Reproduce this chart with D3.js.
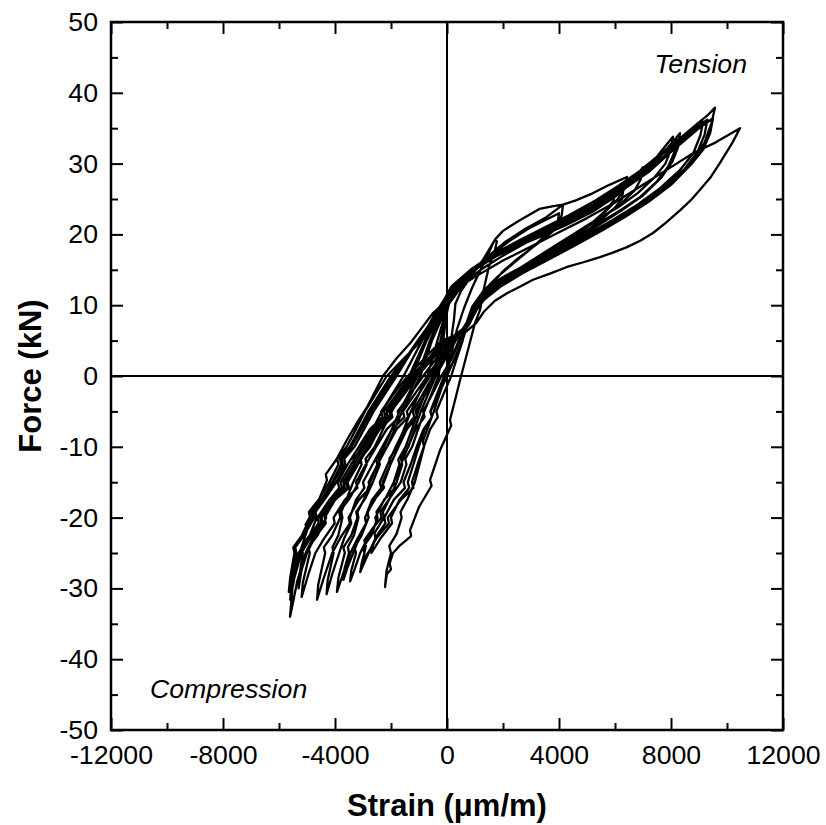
<!DOCTYPE html>
<html>
<head>
<meta charset="utf-8">
<script src="https://cdn.jsdelivr.net/npm/d3@7"></script>
<style>
  body { margin: 0; background: #fff; }
  text { font-family: "Liberation Sans", Arial, sans-serif; fill: #000; }
</style>
</head>
<body>
<svg width="826" height="825"></svg>
<script>
// tick values
var xMajor = [-12000, -8000, -4000, 0, 4000, 8000, 12000]
var xMinor = [-10000, -6000, -2000, 2000, 6000, 10000]
var yMajor = [-50, -40, -30, -20, -10, 0, 10, 20, 30, 40, 50]
var yMinor = [-45, -35, -25, -15, -5, 5, 15, 25, 35, 45]

// hysteresis cycles [strain (um/m), force (kN)]
// each: reload in tension -> peak -> unload -> compression peak -> unload
var cycle1 = [[0,0],[150,3],[350,6.5],[600,9.5],[900,12.5],[1200,15],[1450,17],[1650,18.8],[1720,19.3],
  [1780,19],[1700,17.5],[1500,15.5],[1300,12],[1180,9.3],
  [1000,7.5],[750,3.7],[464,-0.6],[300,-3.2],[107,-6.2],[150,-7],[-250,-10.5],[-607,-14.7],[-550,-15.5],[-1000,-18.5],[-1321,-21.8],[-1280,-22.6],[-1700,-24],[-1929,-25],[-2050,-26.5],[-2000,-27.3],[-2150,-28],[-2214,-29.8],
  [-2160,-27.5],[-2000,-25],[-2060,-24],[-1800,-22.3],[-1620,-20],[-1660,-19.2],[-1400,-17.3],[-1150,-15],[-820,-10],[-860,-9.2],[-470,-5],[-50,0],[142,5],[250,8],[300,10.2]]

var cycle2 = [[500,12],[900,14.3],[1300,16.5],[1720,19.3],[2000,20.5],[2600,22],[3300,23.6],[3800,24],[4143,24.2],
  [4100,22.8],[3950,21],[3500,19.5],[3000,18],[2500,16.5],[2000,14.8],[1500,12.5],[1000,10.2],
  [800,8],[550,5],[250,2.3],[0,0],[-300,-2.6],[-590,-5],[-540,-5.8],[-850,-7.6],[-1085,-10],[-1300,-12.5],[-1550,-15],[-1500,-15.8],[-1900,-17.5],[-2240,-20],[-2200,-20.8],[-2500,-22.5],[-2800,-25],[-2950,-26.3],[-3100,-27.7],
  [-3050,-26.5],[-2950,-25],[-3000,-24.2],[-2700,-22.5],[-2480,-20],[-2520,-19.2],[-2200,-17.3],[-1900,-15],[-1700,-12.5],[-1740,-11.8],[-1480,-10],[-1250,-7.5],[-1030,-5],[-780,-2.5],[-500,0],[-225,5],[-80,8],[0,9.8]]

var cycle3 = [[400,12],[900,14.5],[1500,16.8],[2200,19],[2900,20.8],[3500,22],[4000,23],
  [3950,21.5],[3500,19.8],[3000,18],[2400,16],[1800,14],[1300,12],[900,9.8],
  [700,7.5],[562,5],[350,2.5],[150,0],[-120,-2.5],[-380,-5],[-330,-5.8],[-600,-7.5],[-830,-10],[-1050,-12.5],[-1250,-15],[-1200,-15.8],[-1650,-17.5],[-2115,-20],[-2070,-20.8],[-2500,-22.8],[-2820,-25],[-3000,-26],
  [-2950,-25],[-2900,-24],[-2950,-23.2],[-2650,-21.5],[-2340,-20],[-2380,-19.2],[-2000,-17],[-1650,-15],[-1450,-12.5],[-1490,-11.7],[-1245,-10],[-1030,-7.5],[-810,-5],[-550,-2.5],[-300,0],[-135,5],[-40,8],[0,10.5]]

var cycle4 = [[400,12.5],[900,14.8],[1500,17],[2100,19],[2800,20.8],[3500,22.3],[4143,24.2],[4600,24.8],[5200,25.8],[5800,27],[6429,28.1],
  [6350,26.5],[6100,25],[5600,23],[5000,21],[4300,19],[3500,17],[2700,15],[2000,13.5],[1400,12],[1000,10],
  [750,7.5],[460,5],[150,2.3],[-200,0],[-520,-2.5],[-850,-5],[-800,-5.8],[-1120,-7.5],[-1390,-10],[-1650,-12.5],[-1900,-15],[-1850,-15.8],[-2250,-17.5],[-2560,-20],[-2520,-20.8],[-2850,-23],[-3100,-25],[-3300,-27.3],[-3460,-29],
  [-3420,-27.5],[-3250,-25],[-3300,-24.2],[-3050,-22.5],[-2800,-20],[-2840,-19.2],[-2550,-17.3],[-2250,-15],[-2020,-12.5],[-2060,-11.7],[-1785,-10],[-1540,-7.5],[-1290,-5],[-1000,-2.5],[-700,0],[-342,5],[-120,8],[50,10.6]]

var cycle5 = [[450,12.7],[1000,15],[1650,16.9],[2400,18.6],[3200,20.1],[4000,21.6],[4800,23.1],[5500,24.7],[6000,26.2],
  [5950,24.8],[5700,23.5],[5200,21.7],[4500,19.8],[3700,17.8],[2900,15.9],[2100,14.2],[1500,12.7],[1100,10.8],[850,9],
  [650,7],[422,5],[150,2.5],[-100,0],[-350,-2.5],[-594,-5],[-544,-5.8],[-800,-7.5],[-1010,-10],[-1200,-12.5],[-1400,-15],[-1350,-15.8],[-1700,-17.5],[-2000,-20],[-1960,-20.8],[-2350,-22.8],[-2700,-25],
  [-2650,-24],[-2550,-23],[-2590,-22.2],[-2250,-20],[-2290,-19.2],[-2050,-17.3],[-1800,-15],[-1600,-12.5],[-1640,-11.7],[-1380,-10],[-1160,-7.5],[-932,-5],[-670,-2.5],[-400,0],[-235,5],[-60,8],[100,10.7]]

var cycle6 = [[500,13],[1100,15.3],[1800,17],[2600,18.5],[3400,20],[4200,21.5],[5000,23],[5700,24.8],[6300,26.5],
  [6250,25],[6000,23.8],[5500,22],[4800,20],[4000,18],[3200,16],[2400,14.5],[1700,13],[1200,11],[900,9],
  [650,7],[315,5],[-50,2.5],[-400,0],[-760,-2.5],[-1120,-5],[-1070,-5.8],[-1430,-7.5],[-1730,-10],[-2020,-12.5],[-2300,-15],[-2250,-15.8],[-2600,-17.5],[-2930,-20],[-2890,-20.8],[-3200,-23],[-3450,-25],[-3700,-27.8],[-3930,-30.5],
  [-3880,-28.5],[-3650,-25],[-3700,-24.2],[-3420,-22.5],[-3200,-20],[-3240,-19.2],[-2920,-17.3],[-2650,-15],[-2400,-12.5],[-2440,-11.7],[-2140,-10],[-1870,-7.5],[-1600,-5],[-1270,-2.5],[-950,0],[-537,5],[-200,8],[0,10.5]]

var cycle7 = [[400,12.8],[1000,15],[1700,16.8],[2500,18.3],[3400,19.8],[4300,21.4],[5200,23.2],[6000,25.3],[6600,27.3],[7000,29.5],
  [6920,27.8],[6700,26.2],[6200,24.3],[5500,22.3],[4700,20.3],[3900,18.3],[3100,16.3],[2300,14.5],[1600,12.7],[1150,10.6],[900,8.8],
  [620,7],[270,5],[-100,2.5],[-500,0],[-860,-2.5],[-1222,-5],[-1170,-5.8],[-1520,-7.5],[-1830,-10],[-2120,-12.5],[-2400,-15],[-2350,-15.8],[-2680,-17.5],[-2922,-20],[-2880,-20.8],[-3150,-23],[-3350,-25],[-3550,-27],[-3700,-28.8],
  [-3660,-27.2],[-3500,-25],[-3540,-24.2],[-3320,-22.5],[-3162,-20],[-3200,-19.2],[-2950,-17.3],[-2750,-15],[-2490,-12.5],[-2530,-11.7],[-2240,-10],[-1970,-7.5],[-1696,-5],[-1370,-2.5],[-1050,0],[-610,5],[-270,8],[0,10.6]]

var cycle8 = [[300,12.5],[900,14.8],[1600,16.6],[2400,18.3],[3300,20],[4200,21.8],[5100,23.5],[5900,25.5],[6643,27.7],[7300,30],[7700,32],[8071,33.8],
  [8000,32],[7800,30],[7400,28],[6800,25.8],[6100,23.8],[5300,22],[4500,20],[3700,18],[2900,16],[2100,14],[1500,12],[1100,10],[900,8.5],
  [600,6.8],[225,5],[-200,2.5],[-600,0],[-1000,-2.5],[-1435,-5],[-1385,-5.8],[-1800,-7.5],[-2140,-10],[-2480,-12.5],[-2800,-15],[-2750,-15.8],[-3150,-17.5],[-3515,-20],[-3470,-20.8],[-3800,-22.8],[-4100,-25],[-4400,-28.5],[-4640,-31.6],
  [-4600,-29.5],[-4350,-25],[-4400,-24.2],[-4100,-22.5],[-3810,-20],[-3850,-19.2],[-3480,-17.3],[-3150,-15],[-2870,-12.5],[-2910,-11.7],[-2580,-10],[-2280,-7.5],[-1970,-5],[-1600,-2.5],[-1250,0],[-727,5],[-330,8],[-50,10.5]]

var cycle9 = [[250,12.4],[850,14.6],[1550,16.5],[2350,18.2],[3250,19.9],[4150,21.6],[5050,23.3],[5900,25.4],[6650,27.6],[7300,29.8],[7800,31.8],[8200,33.5],
  [8120,31.6],[7900,29.6],[7500,27.5],[6900,25.3],[6150,23.3],[5350,21.4],[4550,19.5],[3750,17.6],[2950,15.6],[2150,13.8],[1500,11.9],[1100,9.9],[870,8.2],
  [580,6.6],[164,5],[-260,2.5],[-700,0],[-1140,-2.5],[-1574,-5],[-1524,-5.8],[-1960,-7.5],[-2310,-10],[-2660,-12.5],[-3000,-15],[-2950,-15.8],[-3250,-17.5],[-3468,-20],[-3420,-20.8],[-3680,-23],[-3850,-25],[-4100,-28],[-4300,-30.8],
  [-4260,-28.8],[-4050,-25],[-4090,-24.2],[-3880,-22.5],[-3735,-20],[-3775,-19.2],[-3580,-17.3],[-3350,-15],[-3050,-12.5],[-3090,-11.7],[-2750,-10],[-2430,-7.5],[-2110,-5],[-1730,-2.5],[-1350,0],[-784,5],[-390,8],[-50,10.6]]

var cycle10 = [[200,12.3],[800,14.5],[1500,16.5],[2300,18.2],[3200,19.8],[4100,21.5],[5000,23.2],[5900,25.3],[6700,27.5],[7400,30],[7900,32.3],[8321,34.3],
  [8250,32.3],[8050,30.3],[7650,28],[7000,25.5],[6200,23.3],[5400,21.3],[4600,19.3],[3800,17.3],[3000,15.3],[2200,13.5],[1500,11.8],[1100,9.8],[850,8],
  [550,6.5],[85,5],[-380,2.5],[-850,0],[-1300,-2.5],[-1760,-5],[-1710,-5.8],[-2150,-7.5],[-2530,-10],[-2900,-12.5],[-3250,-15],[-3200,-15.8],[-3650,-17.5],[-4050,-20],[-4010,-20.8],[-4400,-23],[-4700,-25],[-4950,-28],[-5190,-31.2],
  [-5150,-29.2],[-4900,-25],[-4950,-24.2],[-4620,-22.5],[-4315,-20],[-4355,-19.2],[-3950,-17.3],[-3600,-15],[-3300,-12.5],[-3340,-11.7],[-2985,-10],[-2650,-7.5],[-2330,-5],[-1940,-2.5],[-1550,0],[-890,5],[-420,8],[-100,10.7]]

var cycle11 = [[200,12.5],[900,14.8],[1700,16.8],[2600,18.6],[3500,20.3],[4400,22],[5300,23.8],[6100,25.8],[6900,28],[7600,30.5],[8200,32.7],[8700,34.3],[9143,35.9],
  [9050,34],[8800,31.5],[8300,29],[7600,26.5],[6800,24.2],[5900,22],[5000,20],[4100,18],[3200,16],[2300,14],[1600,12.2],[1150,10.3],[900,8.5],
  [550,6.5],[22,5],[-500,2.5],[-1050,0],[-1520,-2.5],[-2000,-5],[-1950,-5.8],[-2400,-7.5],[-2800,-10],[-3180,-12.5],[-3550,-15],[-3500,-15.8],[-4000,-17.5],[-4485,-20],[-4440,-20.8],[-4900,-23],[-5250,-25],[-5450,-27.5],[-5536,-29.5],
  [-5500,-27.8],[-5380,-25],[-5420,-24.2],[-5100,-22.5],[-4740,-20],[-4780,-19.2],[-4350,-17.3],[-3950,-15],[-3630,-12.5],[-3670,-11.7],[-3300,-10],[-2960,-7.5],[-2620,-5],[-2210,-2.5],[-1800,0],[-1030,5],[-480,8],[-100,10.8]]

var cycle12 = [[150,12.6],[850,15],[1650,17],[2550,18.9],[3450,20.6],[4350,22.4],[5250,24.3],[6050,26.3],[6850,28.5],[7550,30.9],[8250,33.1],[8850,35],[9300,36.2],
  [9200,34.1],[8950,31.7],[8500,29.3],[7800,26.8],[7000,24.4],[6100,22.2],[5200,20.2],[4300,18.2],[3400,16.2],[2500,14.2],[1750,12.3],[1200,10.3],[900,8.2],
  [520,6.5],[0,5],[-550,2.5],[-1100,0],[-1580,-2.5],[-2050,-5],[-2000,-5.8],[-2450,-7.5],[-2850,-10],[-3230,-12.5],[-3600,-15],[-3550,-15.8],[-4000,-17.5],[-4370,-20],[-4330,-20.8],[-4750,-23],[-5000,-25],[-5200,-27.5],[-5300,-30],
  [-5260,-28],[-5150,-25],[-5190,-24.2],[-4900,-22.5],[-4655,-20],[-4695,-19.2],[-4350,-17.3],[-4050,-15],[-3720,-12.5],[-3760,-11.7],[-3405,-10],[-3060,-7.5],[-2717,-5],[-2310,-2.5],[-1900,0],[-1048,5],[-500,8],[-80,10.8]]

var cycle13 = [[200,12.8],[900,15.2],[1700,17.3],[2600,19.2],[3500,21],[4400,22.8],[5300,24.8],[6100,26.8],[6900,29],[7600,31.3],[8300,33.5],[8900,35.5],[9300,36.8],[9571,37.9],
  [9450,35.8],[9200,33],[8800,30.5],[8200,27.8],[7400,25.3],[6500,22.8],[5600,20.7],[4700,18.7],[3800,16.8],[2900,15],[2000,13],[1400,11.2],[1000,9],[800,7.3],
  [450,6],[-190,5],[-800,2.5],[-1400,0],[-1900,-2.5],[-2350,-5],[-2300,-5.8],[-2750,-7.5],[-3150,-10],[-3550,-12.5],[-3900,-15],[-3850,-15.8],[-4200,-17.5],[-4530,-20],[-4490,-20.8],[-4800,-23],[-5050,-25],[-5350,-29],[-5500,-32],[-5607,-34],
  [-5550,-31.5],[-5500,-28.8],[-5540,-27.8],[-5300,-25.5],[-5000,-21.8],[-5050,-21],[-4650,-18.2],[-4286,-14.7],[-4330,-13.9],[-3950,-11.8],[-3571,-9],[-3200,-6.5],[-2857,-4.4],[-2286,0],[-1800,2.5],[-1300,4.7],[-900,6.8],[-500,8.9],[0,10.7]]

var cycle14 = [[500,12.8],[1200,15],[2000,17],[2900,19],[3800,20.8],[4700,22.6],[5600,24.6],[6400,26.6],[7200,28.8],[7900,31.3],[8500,33.3],[9000,35],[9500,36.4],
  [9400,34.3],[9150,32],[8700,29.8],[8000,27],[7200,24.6],[6300,22.3],[5400,20.3],[4500,18.3],[3600,16.4],[2700,14.5],[1900,12.6],[1300,10.7],[950,8.8],[750,7],
  [400,6],[-127,5],[-650,2.5],[-1200,0],[-1680,-2.5],[-2150,-5],[-2100,-5.8],[-2550,-7.5],[-2950,-10],[-3330,-12.5],[-3700,-15],[-3650,-15.8],[-4100,-17.5],[-4525,-20],[-4480,-20.8],[-4900,-23],[-5200,-25],[-5450,-28.5],[-5600,-31.6],
  [-5560,-29.5],[-5400,-25],[-5440,-24.2],[-5130,-22.5],[-4800,-20],[-4840,-19.2],[-4450,-17.3],[-4100,-15],[-3780,-12.5],[-3820,-11.7],[-3470,-10],[-3130,-7.5],[-2800,-5],[-2400,-2.5],[-2000,0],[-955,5],[-500,8.3],[-100,10.8]]

var cycle15 = [[400,12.5],[1000,14],[2000,16.3],[3000,18.3],[4000,20.3],[5000,22.3],[6000,24.5],[7000,27],[8000,29.5],[8800,31.5],[9600,33],[10464,35],
  [10200,33],[9750,30.1],[9400,28],[9036,26.3],[8700,24.8],[8321,23.4],[7800,21.6],[7357,20.2],[6900,19.1],[6429,18.2],[5900,17.4],[5464,16.8],[4900,16.1],[4286,15.4],[3700,14.5],[3071,13.6],[2600,12.6],[2143,11.7],[1700,10.6],[1300,9],[1050,7.5],
  [600,6],[0,5],[-650,2.5],[-1300,0],[-1780,-2.5],[-2250,-5],[-2200,-5.8],[-2650,-7.5],[-3050,-10],[-3430,-12.5],[-3800,-15],[-3750,-15.8],[-4200,-17.5],[-4625,-20],[-4580,-20.8],[-5000,-23],[-5300,-25],[-5550,-28],[-5650,-30.5],
  [-5600,-28.5],[-5450,-25],[-5490,-24.2],[-5180,-22.5],[-4890,-20],[-4930,-19.2],[-4550,-17.3],[-4200,-15],[-3880,-12.5],[-3920,-11.7],[-3585,-10],[-3250,-7.5],[-2930,-5],[-2540,-2.5],[-2150,0],[-912,5],[-400,8.3],[100,10.5]]

var cycles = [cycle1, cycle2, cycle3, cycle4, cycle5, cycle6, cycle7, cycle8,
              cycle9, cycle10, cycle11, cycle12, cycle13, cycle14, cycle15]

var plotLeft = 111, plotRight = 783, plotTop = 22, plotBottom = 730

var x = d3.scaleLinear().domain([-12000, 12000]).range([plotLeft, plotRight])
var y = d3.scaleLinear().domain([-50, 50]).range([plotBottom, plotTop])

var svg = d3.select("svg")

// data line
var line = d3.line()
    .x(function(d) { return x(d[0]) })
    .y(function(d) { return y(d[1]) })

svg.append("path")
    .datum(d3.merge(cycles))
    .attr("d", line)
    .attr("fill", "none")
    .attr("stroke", "#000")
    .attr("stroke-width", 2.3)
    .attr("stroke-linejoin", "round")

// zero lines
svg.append("line")
    .attr("x1", x(0)).attr("x2", x(0))
    .attr("y1", plotTop).attr("y2", plotBottom)
    .attr("stroke", "#000").attr("stroke-width", 2)
svg.append("line")
    .attr("x1", plotLeft).attr("x2", plotRight)
    .attr("y1", y(0)).attr("y2", y(0))
    .attr("stroke", "#000").attr("stroke-width", 2)

// plain hyphen minus like the original
var fmt = function(d) { return String(d) }

// axes, ticks pointing inward on all four sides
function addAxis(axis, tx, ty, showLabels) {
    var g = svg.append("g")
        .attr("transform", "translate(" + tx + "," + ty + ")")
        .call(axis)
    g.select(".domain").remove()
    g.selectAll(".tick line").attr("stroke", "#000").attr("stroke-width", 2)
    if (!showLabels) g.selectAll(".tick text").remove()
    else g.selectAll(".tick text")
        .style("font-family", "'Liberation Sans', Arial, sans-serif")
        .style("font-size", "26.7px")
        .attr("fill", "#000")
    return g
}

addAxis(d3.axisBottom(x).tickValues(xMajor).tickSize(-12).tickPadding(15).tickFormat(fmt), 0, plotBottom, true)
addAxis(d3.axisBottom(x).tickValues(xMinor).tickSize(-7), 0, plotBottom, false)
addAxis(d3.axisTop(x).tickValues(xMajor).tickSize(-12), 0, plotTop, false)
addAxis(d3.axisTop(x).tickValues(xMinor).tickSize(-7), 0, plotTop, false)
addAxis(d3.axisLeft(y).tickValues(yMajor).tickSize(-12).tickPadding(13).tickFormat(fmt), plotLeft, 0, true)
addAxis(d3.axisLeft(y).tickValues(yMinor).tickSize(-7), plotLeft, 0, false)
addAxis(d3.axisRight(y).tickValues(yMajor).tickSize(-12), plotRight, 0, false)
addAxis(d3.axisRight(y).tickValues(yMinor).tickSize(-7), plotRight, 0, false)

// frame
svg.append("rect")
    .attr("x", plotLeft).attr("y", plotTop)
    .attr("width", plotRight - plotLeft).attr("height", plotBottom - plotTop)
    .attr("fill", "none").attr("stroke", "#000").attr("stroke-width", 2.5)

// axis titles
svg.append("text")
    .attr("x", (plotLeft + plotRight) / 2).attr("y", 816)
    .attr("text-anchor", "middle")
    .style("font-size", "31px").style("font-weight", "bold")
    .text("Strain (μm/m)")

svg.append("text")
    .attr("transform", "translate(41," + y(0) + ") rotate(-90)")
    .attr("text-anchor", "middle")
    .style("font-size", "31px").style("font-weight", "bold")
    .text("Force (kN)")

// annotations
svg.append("text")
    .attr("x", 747).attr("y", 73)
    .attr("text-anchor", "end")
    .style("font-size", "26.7px").style("font-style", "italic")
    .text("Tension")

svg.append("text")
    .attr("x", 150).attr("y", 698)
    .style("font-size", "26.7px").style("font-style", "italic")
    .text("Compression")
</script>
</body>
</html>
